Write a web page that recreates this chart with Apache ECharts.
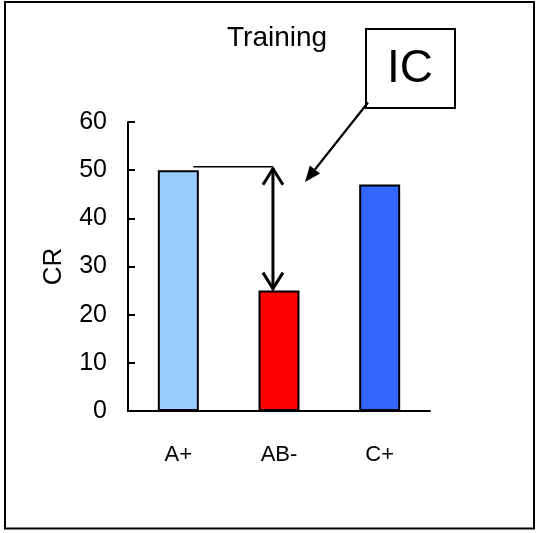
<!DOCTYPE html>
<html><head><meta charset="utf-8">
<script src="https://cdn.jsdelivr.net/npm/echarts@6/dist/echarts.min.js"></script>
<style>html,body{margin:0;padding:0;background:#fff}#c{width:539px;height:533px}</style>
</head><body><div id="c"></div>
<script>
// ---- data ----
const categories = ['A+', 'AB-', 'C+'];
const values = [50, 25, 47];
const barColors = ['#99CCFF', '#FF0000', '#3366FF'];
const yTickMin = 0, yTickMax = 60, yTickStep = 10;
const titleText = 'Training';
const yAxisName = 'CR';
const calloutText = 'IC';
const bracketLevel = 50.7;   // level of the horizontal reference line (value units)

// ---- layout / style ----
const FONT = 'Liberation Sans, Arial, sans-serif';
const chart = echarts.init(document.getElementById('c'), null, {renderer: 'canvas'});

chart.setOption({
  animation: false,
  backgroundColor: '#fff',
  title: {
    text: titleText, left: 222, top: 19,
    textStyle: {fontFamily: FONT, fontSize: 28, fontWeight: 'normal', color: '#000'}
  },
  grid: {left: 128, right: 109, top: 122, bottom: 122},
  xAxis: {
    type: 'category', data: categories,
    axisLine: {lineStyle: {color: '#000', width: 2}},
    axisTick: {show: false},
    axisLabel: {color: '#000', fontFamily: FONT, fontSize: 22, margin: 33}
  },
  yAxis: {
    type: 'value', min: yTickMin, max: yTickMax, interval: yTickStep,
    name: yAxisName, nameLocation: 'middle', nameGap: 61,
    nameTextStyle: {color: '#000', fontFamily: FONT, fontSize: 26},
    axisLine: {show: true, lineStyle: {color: '#000', width: 2}},
    axisTick: {show: true, inside: true, length: 7, lineStyle: {color: '#000', width: 2}},
    splitLine: {show: false},
    axisLabel: {color: '#000', fontFamily: FONT, fontSize: 25, margin: 21}
  },
  series: [{
    type: 'bar', barWidth: 41,
    data: values.map((v, i) => ({value: v, itemStyle: {color: barColors[i]}})),
    itemStyle: {borderColor: '#000', borderWidth: 2}
  }]
});

// ---- annotations positioned through the chart's scales ----
const p0 = chart.convertToPixel({gridIndex: 0}, [0, bracketLevel]);
const p1 = chart.convertToPixel({gridIndex: 0}, [1, values[1]]);
const xArrow = p0[0] + (p1[0] - p0[0]) * 0.94;
const yTop = p0[1];
const yBot = p1[1];
const xLineStart = p0[0] + 15;

// IC callout arrow geometry
const s = [368, 102.5], t = [305, 182];
const dx = t[0] - s[0], dy = t[1] - s[1], L = Math.hypot(dx, dy);
const ux = dx / L, uy = dy / L, hl = 16, hw = 6.5;
const bx = t[0] - ux * hl, by = t[1] - uy * hl;

chart.setOption({
  graphic: [
    {type: 'rect', shape: {x: 5, y: 2, width: 529, height: 526.5},
     style: {fill: 'none', stroke: '#000', lineWidth: 2}, z: 100},
    {type: 'line', shape: {x1: xLineStart, y1: yTop, x2: xArrow, y2: yTop},
     style: {stroke: '#000', lineWidth: 1.5}, z: 100},
    {type: 'line', shape: {x1: xArrow, y1: yTop + 1, x2: xArrow, y2: yBot - 1},
     style: {stroke: '#000', lineWidth: 3}, z: 100},
    {type: 'polyline', shape: {points: [[xArrow - 10, yTop + 18], [xArrow, yTop + 2], [xArrow + 10, yTop + 18]]},
     style: {stroke: '#000', lineWidth: 3, fill: null}, z: 100},
    {type: 'polyline', shape: {points: [[xArrow - 10, yBot - 18], [xArrow, yBot - 2], [xArrow + 10, yBot - 18]]},
     style: {stroke: '#000', lineWidth: 3, fill: null}, z: 100},
    {type: 'rect', shape: {x: 366, y: 29, width: 89, height: 79},
     style: {fill: '#fff', stroke: '#000', lineWidth: 2}, z: 100},
    {type: 'text', x: 410, y: 69,
     style: {text: calloutText, font: '46px ' + FONT, fill: '#000', textAlign: 'center', textVerticalAlign: 'middle'}, z: 101},
    {type: 'line', shape: {x1: s[0], y1: s[1], x2: bx, y2: by},
     style: {stroke: '#000', lineWidth: 2.2}, z: 100},
    {type: 'polygon', shape: {points: [[t[0], t[1]], [bx + uy * hw, by - ux * hw], [bx - uy * hw, by + ux * hw]]},
     style: {fill: '#000'}, z: 100}
  ]
});
</script>
</body></html>
